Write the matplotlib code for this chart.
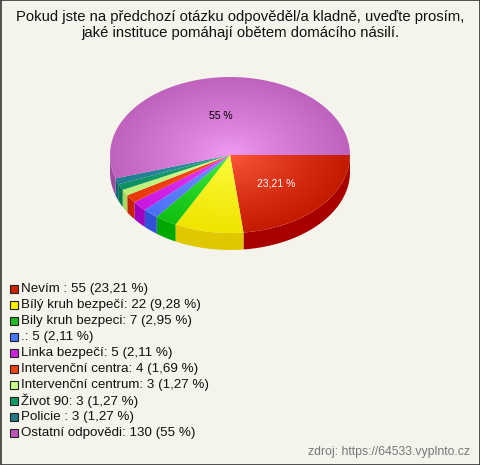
import numpy as np
import matplotlib.pyplot as plt
from matplotlib.patches import Polygon, Rectangle
from matplotlib.colors import to_rgb

plt.rcParams['font.family'] = ['Liberation Sans', 'DejaVu Sans']

TITLE = 'Pokud jste na předchozí otázku odpověděl/a kladně, uveďte prosím,\njaké instituce pomáhají obětem domácího násilí.'
SOURCE = 'zdroj: https://64533.vyplnto.cz'

names = ['Nevím ', 'Bílý kruh bezpečí', 'Bily kruh bezpeci', '.', 'Linka bezpečí',
         'Intervenční centra', 'Intervenční centrum', 'Život 90', 'Policie ',
         'Ostatní odpovědi']
counts = [55, 22, 7, 5, 5, 4, 3, 3, 3, 130]
pct_text = ['23,21', '9,28', '2,95', '2,11', '2,11', '1,69', '1,27', '1,27', '1,27', '55']

legend_colors = ['#cc2200', '#ffee00', '#22bb22', '#4477ff', '#cc22dd',
                 '#ee4411', '#ccff88', '#119966', '#227788', '#bb55bb']
top_light = ['#ff5a3c', '#ffff44', '#44ee44', '#7799ff', '#ee44ff',
             '#ff5522', '#ddff99', '#22aa77', '#3399aa', '#f49cf4']
top_dark = ['#c41a00', '#f0e400', '#10c010', '#4c70f8', '#c818e0',
            '#e83808', '#bbf077', '#0e9060', '#1e7e90', '#be62be']
side_colors = ['#a80000', '#e0c800', '#00a800', '#3050d8', '#a000c0',
               '#c82000', '#a8d860', '#007848', '#106878', '#a04aa0']
label_colors = ['white', 'black', 'black', 'black', 'black',
                'black', 'black', 'black', 'black', 'black']

BG = '#f4f4ec'
cx, cy, rx, ry, depth = 230, 155, 120, 78, 17

fig = plt.figure(figsize=(4.8, 4.65), dpi=100, facecolor=BG)
ax = fig.add_axes([0, 0, 1, 1])
ax.set_facecolor(BG)
ax.axis('off')

total = float(sum(counts))
fracs = [c / total for c in counts]
edges = np.concatenate([[0], np.cumsum(fracs)]) * 2 * np.pi


def rim(t0, t1, dy=0, n=60):
    t = np.linspace(t0, t1, max(2, int(n * (t1 - t0) / np.pi) + 2))
    return np.column_stack([cx + rx * np.cos(t), cy + ry * np.sin(t) + dy])


# side faces (front half only)
for i in range(len(counts)):
    a0 = max(edges[i], 0)
    a1 = min(edges[i + 1], np.pi)
    if a1 <= a0:
        continue
    top = rim(a0, a1)
    bot = rim(a0, a1, depth)[::-1]
    ax.add_patch(Polygon(np.vstack([top, bot]), closed=True,
                         facecolor=side_colors[i], edgecolor='none'))

# top faces with radial shading
xs = np.linspace(cx - rx, cx + rx, 241)
ys = np.linspace(cy - ry, cy + ry, 157)
X, Y = np.meshgrid(xs, ys)
R = np.clip(np.sqrt(((X - cx) / rx) ** 2 + ((Y - cy) / ry) ** 2), 0, 1)[..., None]
for i in range(len(counts)):
    pts = np.vstack([[cx, cy], rim(edges[i], edges[i + 1]), [cx, cy]])
    poly = Polygon(pts, closed=True, facecolor='none', edgecolor='none')
    ax.add_patch(poly)
    lo = np.array(to_rgb(top_light[i]))
    hi = np.array(to_rgb(top_dark[i]))
    img = lo + (hi - lo) * R ** 0.8
    im = ax.imshow(img, extent=(xs[0], xs[-1], ys[-1], ys[0]),
                   interpolation='bilinear', zorder=2)
    im.set_clip_path(poly)

    if fracs[i] >= 0.1:
        mid = (edges[i] + edges[i + 1]) / 2
        ax.text(cx + 0.52 * rx * np.cos(mid), cy + 0.52 * ry * np.sin(mid) + 1,
                pct_text[i] + ' %', ha='center', va='center', fontsize=7.5,
                color=label_colors[i], zorder=3)

ax.set_xlim(0, 480)
ax.set_ylim(465, 0)

ax.text(240, 25, TITLE, ha='center', va='center', fontsize=10.7,
        color='#111111', linespacing=1.2)

# legend
for i in range(len(counts)):
    y = 289 + 16 * i
    ax.add_patch(Rectangle((10, y - 4), 8, 8, facecolor=legend_colors[i],
                           edgecolor='#222222', lw=0.8))
    ax.text(21, y, '{}: {} ({} %)'.format(names[i], counts[i], pct_text[i]),
            ha='left', va='center', fontsize=9.6, color='#111111')

ax.text(470, 452, SOURCE, ha='right', va='center', fontsize=8.8, color='#777777')

ax.add_patch(Rectangle((0.5, 0.5), 479, 464, facecolor='none',
                       edgecolor='#333333', lw=1.2, zorder=5))

fig.savefig('out.png', dpi=100, facecolor=BG)
